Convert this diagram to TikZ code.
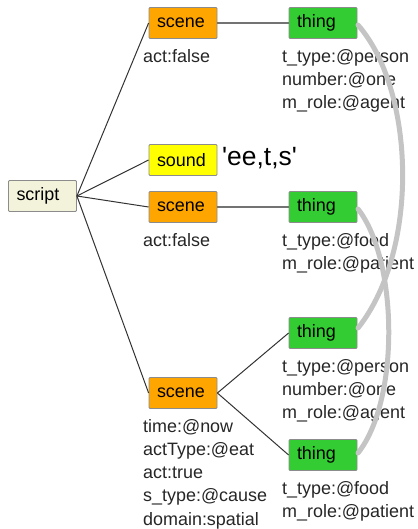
\documentclass[tikz,border=0pt]{standalone}
\usepackage{fontspec}
\setmainfont{Liberation Sans}
\newfontfamily\rawsans{Liberation Sans}[Ligatures=TeXOff]
\definecolor{scenec}{HTML}{FFA500}
\definecolor{thingc}{HTML}{33CC33}
\definecolor{soundc}{HTML}{FFFF00}
\definecolor{scriptc}{HTML}{F3F3DC}
\definecolor{linkc}{HTML}{C4C4C4}
\definecolor{boxborder}{HTML}{8C8C8C}
\begin{document}
\begin{tikzpicture}[x=1bp,y=-1bp,
  box/.style={draw=boxborder, line width=0.8bp, minimum height=31bp, text width=52bp,
    inner xsep=8bp, inner ysep=0pt, align=left, font=\fontsize{18}{21}\selectfont,
    rounded corners=1bp},
  attr/.style={anchor=north west, inner sep=0pt, align=left,
    font=\fontsize{18}{23.3}\selectfont, text=black!85},
  tree/.style={draw=black!80, line width=1bp},
  rel/.style={draw=black!55, line width=1.6bp},
  coref/.style={draw=linkc, line width=5bp, line cap=round}]
\useasboundingbox (0,0) rectangle (417,529);
% boxes
\node[box, fill=scriptc] (script) at (42.5,196) {script};
\node[box, fill=scenec] (scene1) at (183,23) {scene};
\node[box, fill=thingc] (thing1) at (323,23) {thing};
\node[box, fill=soundc] (sound) at (183,160) {sound};
\node[anchor=base west, inner sep=0pt, font=\rawsans\fontsize{26.5}{30}\selectfont] (snd) at (222,166) {'ee,t,s'};
\node[box, fill=scenec] (scene2) at (183,207) {scene};
\node[box, fill=thingc] (thing2) at (323,207) {thing};
\node[box, fill=thingc] (thing3) at (323,333) {thing};
\node[box, fill=scenec] (scene3) at (183,393) {scene};
\node[box, fill=thingc] (thing4) at (323,455) {thing};
% attributes
\node[attr] (a1) at (143,49) {\rule{0pt}{13bp}act:false};
\node[attr] (a2) at (282,49) {\rule{0pt}{13bp}t\_type:@person\\number:@one\\m\_role:@agent};
\node[attr] (a3) at (143,233) {\rule{0pt}{13bp}act:false};
\node[attr] (a4) at (282,233) {\rule{0pt}{13bp}t\_type:@food\\m\_role:@patient};
\node[attr] (a5) at (282,359) {\rule{0pt}{13bp}t\_type:@person\\number:@one\\m\_role:@agent};
\node[attr] (a6) at (143,419) {\rule{0pt}{13bp}time:@now\\actType:@eat\\act:true\\s\_type:@cause\\domain:spatial};
\node[attr] (a7) at (282,481) {\rule{0pt}{13bp}t\_type:@food\\m\_role:@patient};
% tree edges
\draw[tree] (script.east) -- (scene1.west);
\draw[tree] (script.east) -- (sound.west);
\draw[tree] (script.east) -- (scene2.west);
\draw[tree] (script.east) -- (scene3.west);
\draw[tree] (scene3.east) -- (thing3.west);
\draw[tree] (scene3.east) -- (thing4.west);
\draw[rel] (scene1.east) -- (thing1.west);
\draw[rel] (scene2.east) -- (thing2.west);
% coreference arcs
\coordinate (c1) at (358,25);
\coordinate (c3) at (358,328);
\coordinate (c2) at (358,209);
\coordinate (c4) at (358,453);
\draw[coref] (c1) .. controls (415,90) and (420,250) .. (c3);
\draw[coref] (c2) .. controls (398,260) and (400,400) .. (c4);
\end{tikzpicture}
\end{document}
